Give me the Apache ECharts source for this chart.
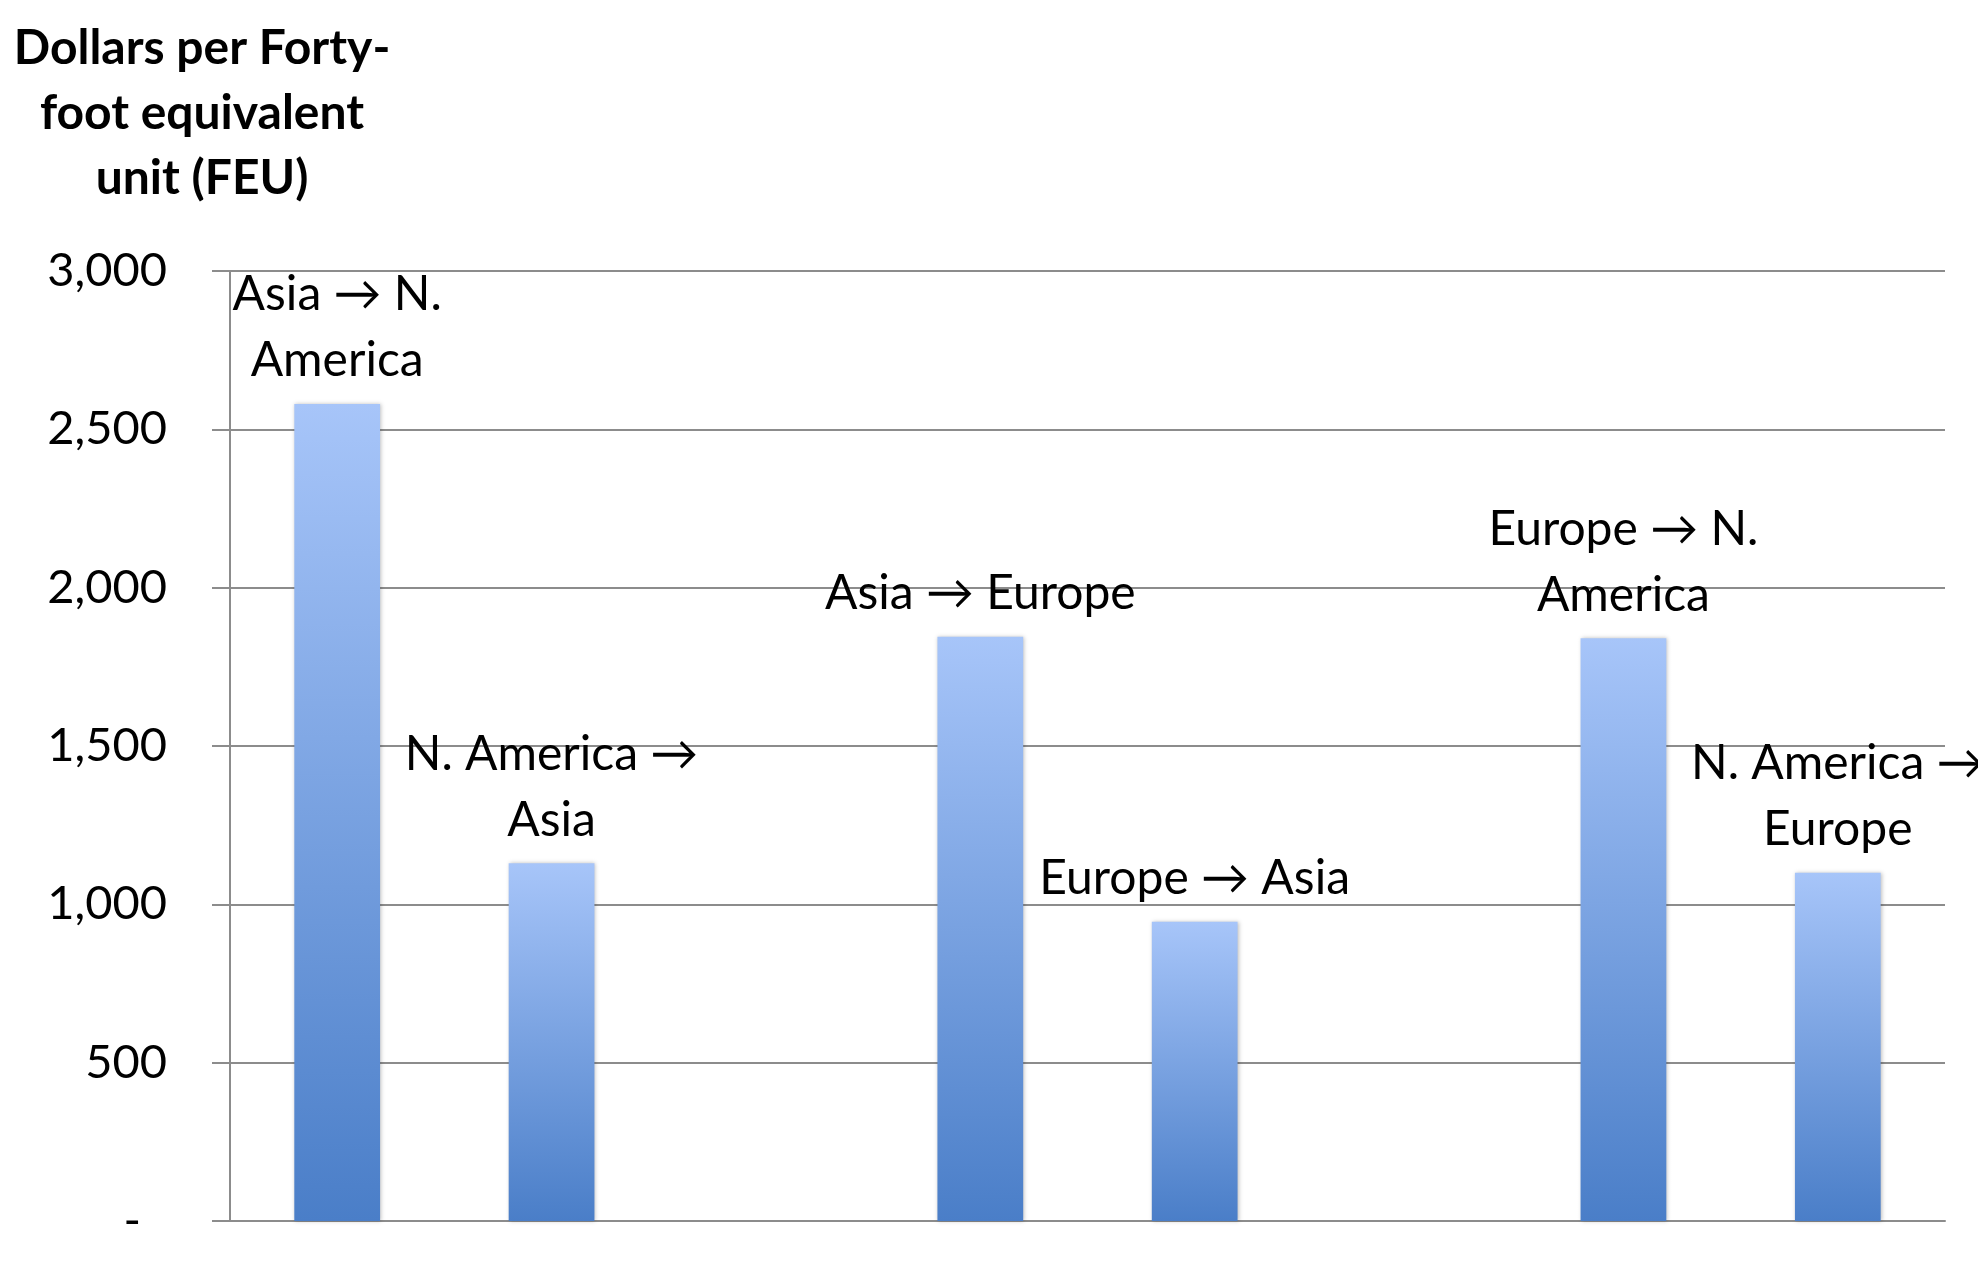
<!DOCTYPE html>
<html>
<head>
<meta charset="utf-8">
<script src="https://cdn.jsdelivr.net/npm/echarts@6/dist/echarts.min.js"></script>
<style>
html,body{margin:0;padding:0;background:#fff;}
#chart{width:1978px;height:1272px;}
</style>
</head>
<body>
<div id="chart"></div>
<script>
// Routes (blank entries are the gaps between route pairs)
const categories = [
  'Asia \u2192 N.\nAmerica',
  'N. America \u2192\nAsia',
  '',
  'Asia \u2192 Europe',
  'Europe \u2192 Asia',
  '',
  'Europe \u2192 N.\nAmerica',
  'N. America \u2192\nEurope'
];
// Dollars per FEU
const values = [2580, 1130, null, 1845, 945, null, 1840, 1100];
const yTicks = [0, 500, 1000, 1500, 2000, 2500, 3000];
const titleText = 'Dollars per Forty-\nfoot equivalent\nunit (FEU)';

const FONT = 'Lato';
const chart = echarts.init(document.getElementById('chart'), null, {renderer: 'canvas'});
chart.setOption({
  animation: false,
  backgroundColor: '#ffffff',
  title: {
    text: titleText,
    left: 197,
    top: 11,
    textAlign: 'center',
    textStyle: {
      fontFamily: FONT,
      fontWeight: 'bold',
      fontSize: 48,
      lineHeight: 65,
      color: '#000',
      align: 'center'
    }
  },
  grid: {left: 230, right: 33, top: 271, bottom: 51, containLabel: false},
  xAxis: {
    type: 'category',
    data: categories,
    axisLine: {show: true, lineStyle: {color: '#8c8c8c', width: 2}},
    axisTick: {show: false},
    axisLabel: {show: false},
    splitLine: {show: false}
  },
  yAxis: {
    type: 'value',
    min: yTicks[0],
    max: yTicks[yTicks.length - 1],
    interval: 500,
    axisLine: {show: true, lineStyle: {color: '#8c8c8c', width: 2}},
    axisTick: {show: true, length: 18, lineStyle: {color: '#8c8c8c', width: 2}},
    splitLine: {show: true, lineStyle: {color: '#8c8c8c', width: 2}},
    axisLabel: {
      margin: 63,
      fontFamily: FONT,
      fontSize: 47,
      color: '#000',
      formatter: function (v) {
        if (v === 0) return '{d|-}';
        return v.toLocaleString('en-US');
      },
      rich: {
        d: {fontFamily: FONT, fontSize: 47, color: '#000', padding: [0, 26, 0, 0]}
      }
    }
  },
  series: [{
    type: 'bar',
    data: values,
    barWidth: '40%',
    itemStyle: {
      color: new echarts.graphic.LinearGradient(0, 0, 0, 1, [
        {offset: 0, color: '#a7c5f9'},
        {offset: 1, color: '#4a7ec8'}
      ]),
      shadowColor: 'rgba(0,0,0,0.25)',
      shadowBlur: 4,
      shadowOffsetX: 1
    },
    label: {
      show: true,
      position: 'top',
      distance: 10,
      fontFamily: FONT,
      fontSize: 48,
      lineHeight: 66,
      color: '#000',
      align: 'center',
      formatter: function (p) { return p.name; }
    }
  }]
});
</script>
</body>
</html>
